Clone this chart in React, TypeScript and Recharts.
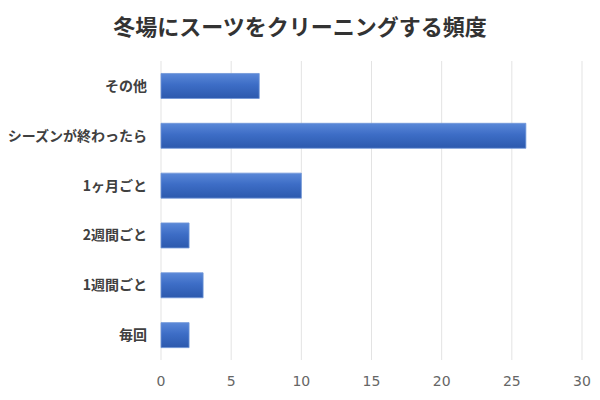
import React from "react";
import { BarChart, Bar, XAxis, YAxis, CartesianGrid } from "recharts";

const categories = ["その他", "シーズンが終わったら", "1ヶ月ごと", "2週間ごと", "1週間ごと", "毎回"];
const counts = [7, 26, 10, 2, 3, 2];
const xTicks = [0, 5, 10, 15, 20, 25, 30];
const title = "冬場にスーツをクリーニングする頻度";

const data = categories.map((name, i) => ({ name, value: counts[i] }));

const FONT = "'Noto Sans CJK JP', 'Noto Sans', sans-serif";

export default function App() {
  return (
    <div style={{ position: "absolute", left: 0, top: 0, width: 600, height: 400, background: "#fff", fontFamily: FONT }}>
      <div
        style={{
          position: "absolute",
          left: 0,
          top: 8,
          width: 600,
          textAlign: "center",
          fontSize: 22,
          fontWeight: 700,
          color: "#333",
          lineHeight: "34px",
          fontFamily: FONT,
        }}
      >
        {title}
      </div>
      <BarChart
        width={600}
        height={400}
        data={data}
        layout="vertical"
        margin={{ top: 61, right: 18, bottom: 0, left: 0 }}
        barCategoryGap="25%"
      >
        <defs>
          <linearGradient id="barGrad" x1="0" y1="0" x2="0" y2="1">
            <stop offset="0%" stopColor="#5a88d8" />
            <stop offset="45%" stopColor="#3d6dc6" />
            <stop offset="100%" stopColor="#2c59ad" />
          </linearGradient>
        </defs>
        <CartesianGrid horizontal={false} stroke="#e3e3e3" />
        <XAxis
          type="number"
          domain={[0, 30]}
          ticks={xTicks}
          axisLine={false}
          tickLine={false}
          height={40}
          tickMargin={10}
          tick={{ fill: "#666", fontSize: 14, fontFamily: "'DejaVu Sans', sans-serif" }}
        />
        <YAxis
          type="category"
          dataKey="name"
          width={161}
          axisLine={false}
          tickLine={false}
          tickSize={0}
          tickMargin={14}
          tick={{ fill: "#404040", fontSize: 14, fontWeight: 700, fontFamily: FONT }}
        />
        <Bar dataKey="value" fill="url(#barGrad)" stroke="#6f95d8" strokeWidth={0.8} isAnimationActive={false} />
      </BarChart>
    </div>
  );
}
